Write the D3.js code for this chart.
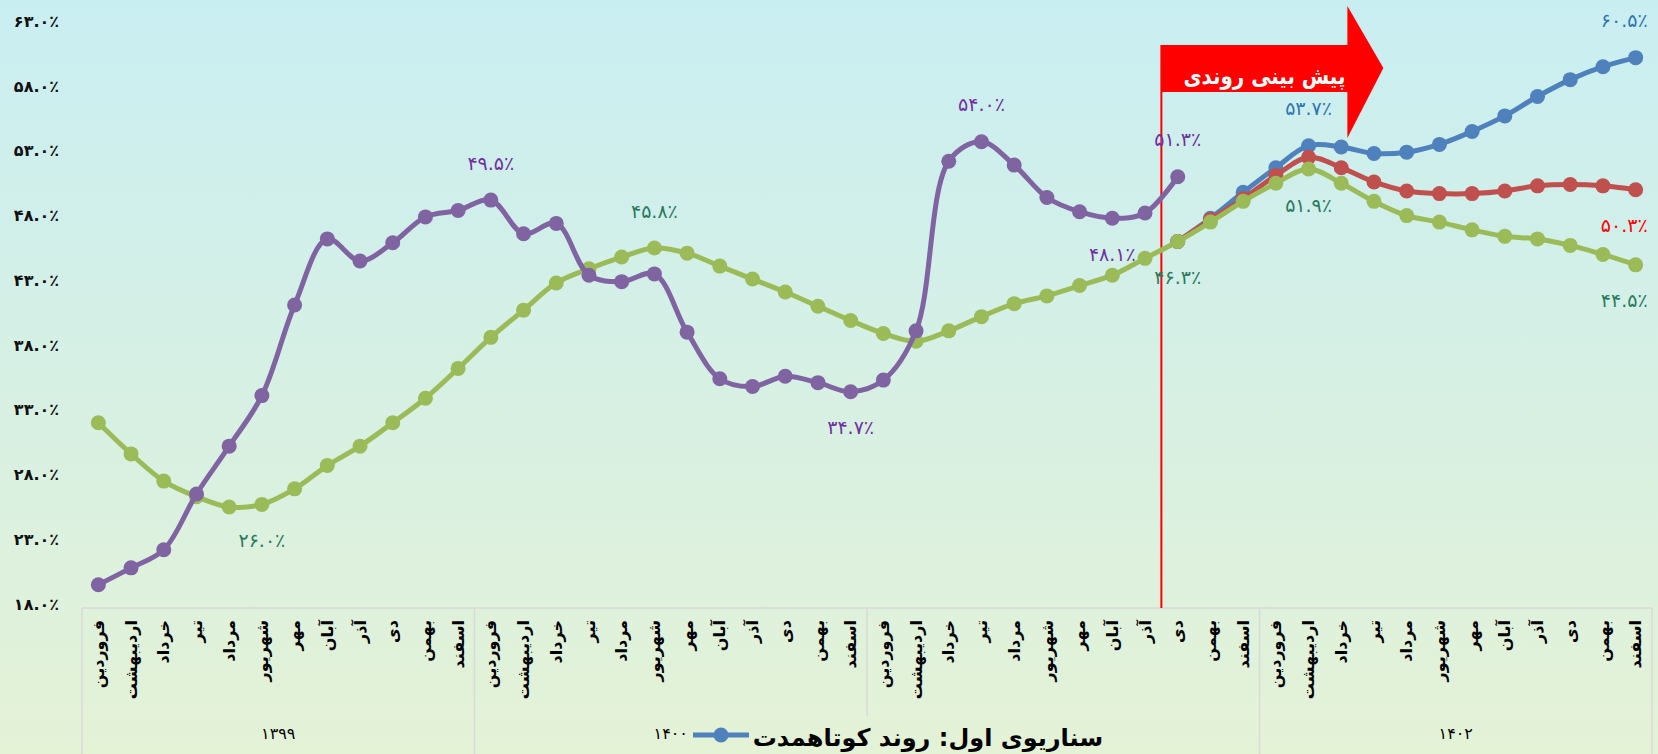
<!DOCTYPE html>
<html>
<head>
<meta charset="utf-8">
<script src="https://cdn.jsdelivr.net/npm/d3@7"></script>
<style>
  body { margin: 0; overflow: hidden; }
  svg { display: block; font-family: "DejaVu Sans", sans-serif; }
</style>
</head>
<body>
<svg id="chart" width="1658" height="754"></svg>
<script>
const months = ['فروردین', 'اردیبهشت', 'خرداد', 'تیر', 'مرداد', 'شهریور', 'مهر', 'آبان', 'آذر', 'دی', 'بهمن', 'اسفند'];
const years = ['۱۳۹۹', '۱۴۰۰', '۱۴۰۱', '۱۴۰۲'];
const yTicks = [18, 23, 28, 33, 38, 43, 48, 53, 58, 63];

// actual trend (purple) up to Dey 1401
const purple = [19.8, 21.1, 22.5, 26.8, 30.5, 34.4, 41.4, 46.5, 44.8, 46.2, 48.2, 48.7,
  49.5, 46.9, 47.7, 43.7, 43.2, 43.8, 39.3, 35.7, 35.1, 35.9, 35.4, 34.7,
  35.6, 39.4, 52.5, 54.0, 52.2, 49.7, 48.6, 48.1, 48.5, 51.3];
// smoothed trend (green), all 48 months
const green = [32.3, 29.9, 27.8, 26.6, 25.8, 26.0, 27.2, 29.0, 30.5, 32.3, 34.2, 36.5,
  38.9, 41.0, 43.1, 44.2, 45.1, 45.8, 45.4, 44.4, 43.4, 42.4, 41.3, 40.2,
  39.2, 38.6, 39.4, 40.5, 41.5, 42.1, 42.9, 43.7, 45.0, 46.3, 47.8, 49.4,
  50.8, 51.9, 50.8, 49.4, 48.3, 47.8, 47.2, 46.7, 46.5, 46.0, 45.3, 44.5];
// forecast scenarios, starting at Dey 1401
const forecastStart = 33;
const blue = [46.3, 48.1, 50.1, 52.0, 53.7, 53.6, 53.1, 53.2, 53.8, 54.8, 56.0, 57.5, 58.8, 59.8, 60.5];
const red = [46.3, 48.0, 49.6, 51.4, 52.8, 52.0, 50.9, 50.2, 50.0, 50.0, 50.2, 50.6, 50.7, 50.6, 50.3];

const legendText = 'سناریوی اول: روند کوتاهمدت';
const arrowText = 'پیش بینی روندی';

const series = [
  { name: 'blue', color: '#4F81BD', label: '#2E75B6', values: blue.map((v, i) => [forecastStart + i, v]) },
  { name: 'red', color: '#C0504D', label: '#FF0000', values: red.map((v, i) => [forecastStart + i, v]) },
  { name: 'green', color: '#9BBB59', label: '#2A7A5E', values: green.map((v, i) => [i, v]) },
  { name: 'purple', color: '#8064A2', label: '#7030A0', values: purple.map((v, i) => [i, v]) }
];

const dataLabels = [
  ['purple', 12, 'above'], ['purple', 23, 'below'], ['purple', 27, 'above'], ['purple', 31, 'below'], ['purple', 33, 'above'],
  ['green', 5, 'below'], ['green', 17, 'above'], ['green', 33, 'below'], ['green', 37, 'below'], ['green', 47, 'below'],
  ['blue', 37, 'above'], ['blue', 47, 'above'], ['red', 47, 'below']
];

const W = 1658, H = 754;
const plotLeft = 82, plotRight = 1652, plotTop = 25.25, plotBottom = 608;
const legendBox = { x: 691, y: 716, w: 420 };

const faDigits = s => s.replace(/[0-9]/g, d => '۰۱۲۳۴۵۶۷۸۹'[d]);
const pct = v => faDigits(d3.format('.1f')(v)) + '٪';

const svg = d3.select('#chart');

const defs = svg.append('defs');
const grad = defs.append('linearGradient')
  .attr('id', 'bg')
  .attr('gradientUnits', 'userSpaceOnUse')
  .attr('x1', 0).attr('y1', 0).attr('x2', 0).attr('y2', H);
grad.append('stop').attr('offset', '0%').attr('stop-color', '#C9EEF2');
grad.append('stop').attr('offset', '100%').attr('stop-color', '#E4F2D6');

svg.append('rect').attr('width', W).attr('height', H).attr('fill', 'url(#bg)');

const cats = d3.range(years.length * months.length);
const x = d3.scaleBand().domain(cats).range([plotLeft, plotRight]).padding(0);
const cx = i => x(i) + x.bandwidth() / 2;
const y = d3.scaleLinear().domain([18, 63]).range([plotBottom, plotTop]);

// y axis labels
svg.append('g')
  .selectAll('text')
  .data(yTicks)
  .enter()
  .append('text')
  .attr('x', 59)
  .attr('y', (d) => y(d) - 4)
  .attr('dy', '0.35em')
  .attr('text-anchor', 'end')
  .attr('font-size', 16)
  .attr('font-weight', 'bold')
  .attr('fill', '#111')
  .text((d) => pct(d));

// category box
const axisG = svg.append('g');
axisG.append('line')
  .attr('x1', plotLeft).attr('x2', plotRight)
  .attr('y1', plotBottom).attr('y2', plotBottom)
  .attr('stroke', '#D9D9D9').attr('stroke-width', 1.5);
axisG.selectAll('line.sep')
  .data(d3.range(years.length + 1))
  .enter()
  .append('line')
  .attr('class', 'sep')
  .attr('x1', (d) => d < years.length ? x(d * 12) : plotRight)
  .attr('x2', (d) => d < years.length ? x(d * 12) : plotRight)
  .attr('y1', plotBottom).attr('y2', H)
  .attr('stroke', '#D9D9D9').attr('stroke-width', 1.5);

axisG.selectAll('text.month')
  .data(cats)
  .enter()
  .append('text')
  .attr('class', 'month')
  .attr('transform', (d) => `translate(${cx(d)},${plotBottom + 12}) rotate(-90)`)
  .attr('text-anchor', 'end')
  .attr('dy', '0.35em')
  .attr('font-size', 16)
  .attr('font-weight', 'bold')
  .attr('fill', '#000')
  .text((d) => months[d % 12]);

// year labels; the one under the legend is covered by it, as in the source
const yearMid = i => (x(i * 12) + (i < years.length - 1 ? x(i * 12 + 12) : plotRight)) / 2;
axisG.selectAll('text.year')
  .data(years.map((d, i) => ({ d, mx: yearMid(i) }))
    .filter((o) => o.mx < legendBox.x || o.mx > legendBox.x + legendBox.w))
  .enter()
  .append('text')
  .attr('class', 'year')
  .attr('x', (o) => o.mx)
  .attr('y', 733)
  .attr('dy', '0.35em')
  .attr('text-anchor', 'middle')
  .attr('font-size', 16)
  .attr('fill', '#000')
  .text((o) => o.d);

// forecast marker: vertical line + arrow
const fx = x(forecastStart);
svg.append('line')
  .attr('x1', fx).attr('x2', fx)
  .attr('y1', 45).attr('y2', plotBottom)
  .attr('stroke', '#FF0000').attr('stroke-width', 2);
const bodyEnd = fx + 186;
svg.append('path')
  .attr('d', `M${fx},45 L${bodyEnd},45 L${bodyEnd},6 L${bodyEnd + 36},68 L${bodyEnd},138 L${bodyEnd},92 L${fx},92 Z`)
  .attr('fill', '#FF0000');
svg.append('text')
  .attr('x', bodyEnd - 2)
  .attr('y', 84)
  .attr('text-anchor', 'end')
  .attr('font-size', 23)
  .attr('font-weight', 'bold')
  .attr('textLength', 162)
  .attr('lengthAdjust', 'spacingAndGlyphs')
  .attr('fill', '#fff')
  .text(arrowText);

// lines and markers
const line = d3.line()
  .x((d) => cx(d[0]))
  .y((d) => y(d[1]))
  .curve(d3.curveCatmullRom.alpha(0.5));

series.forEach((s) => {
  const g = svg.append('g');
  g.append('path')
    .attr('d', line(s.values))
    .attr('fill', 'none')
    .attr('stroke', s.color)
    .attr('stroke-width', 5)
    .attr('stroke-linejoin', 'round');
  g.selectAll('circle')
    .data(s.values)
    .enter()
    .append('circle')
    .attr('cx', (d) => cx(d[0]))
    .attr('cy', (d) => y(d[1]))
    .attr('r', 7.5)
    .attr('fill', s.color);
});

// data labels
const byName = {};
series.forEach((s) => { byName[s.name] = s; });
const valueAt = d => byName[d[0]].values.find((p) => p[0] === d[1])[1];
svg.append('g')
  .selectAll('text')
  .data(dataLabels)
  .enter()
  .append('text')
  .attr('x', (d) => d[1] === cats.length - 1 ? cx(d[1]) + 12 : cx(d[1]))
  .attr('y', (d) => y(valueAt(d)) + (d[2] === 'above' ? -37 : 36))
  .attr('dy', '0.35em')
  .attr('text-anchor', (d) => d[1] === cats.length - 1 ? 'end' : 'middle')
  .attr('font-size', 19)
  .attr('fill', (d) => byName[d[0]].label)
  .text((d) => pct(valueAt(d)));

// legend
const lg = svg.append('g');
lg.append('rect')
  .attr('x', legendBox.x).attr('y', legendBox.y)
  .attr('width', legendBox.w).attr('height', H - legendBox.y)
  .attr('fill', 'url(#bg)');
lg.append('line')
  .attr('x1', 693).attr('x2', 749)
  .attr('y1', 735).attr('y2', 735)
  .attr('stroke', '#4F81BD').attr('stroke-width', 5);
lg.append('circle')
  .attr('cx', 721).attr('cy', 735).attr('r', 7.5)
  .attr('fill', '#4F81BD');
lg.append('text')
  .attr('x', 1103)
  .attr('y', 746)
  .attr('text-anchor', 'end')
  .attr('font-size', 24)
  .attr('font-weight', 'bold')
  .attr('fill', '#000')
  .text(legendText);
</script>
</body>
</html>
